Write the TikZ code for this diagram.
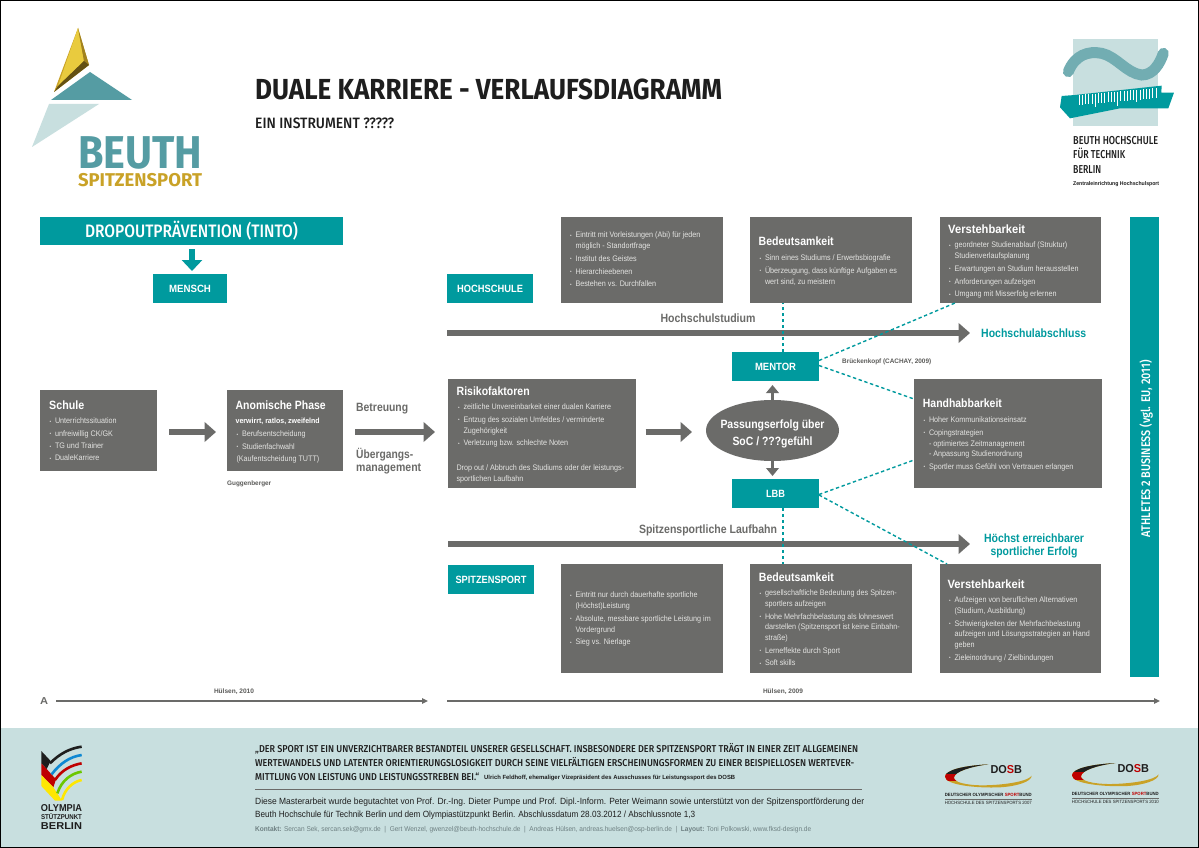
\documentclass[tikz,border=0pt]{standalone}
\usepackage{fontspec}
\usepackage{graphicx}
\usetikzlibrary{arrows.meta,shapes.geometric}
\setmainfont{Liberation Sans}
\newfontfamily\nar[FakeStretch=0.9]{Liberation Sans}
\newfontfamily\med{Fira Sans Medium}
\newfontfamily\fbd{Fira Sans Bold}
\definecolor{tl}{HTML}{009A9E}
\definecolor{gr}{HTML}{6B6B69}
\definecolor{ft}{HTML}{C8DFDF}
\definecolor{lt}{HTML}{E4E4E2}
\definecolor{lg}{HTML}{559CA3}
\definecolor{gd}{HTML}{C9A227}
\definecolor{gl}{HTML}{E9CB3E}
\definecolor{kt}{HTML}{6E8082}
\definecolor{dk}{HTML}{1E1E1E}
\newsavebox\fwbox
\newcommand\fw[2]{\sbox\fwbox{\rule{0pt}{.72em}\smash{#2}}\pgfmathsetmacro\fwr{#1/\the\wd\fwbox}\scalebox{\fwr}[1]{\usebox\fwbox}}
\newcommand\sz[1]{\fontsize{#1}{#1}\selectfont}
\newcommand\rbox[7]{\pgfmathsetmacro\rw{#5-#3}\pgfmathsetmacro\rh{#6-#4}\node[#1,anchor=north west,minimum width=\rw pt,minimum height=\rh pt] (#2) at (#3,#4) {#7};}
\newcommand\bu[1]{\makebox[5.5pt][l]{\raisebox{.5pt}{\fontsize{5}{5}\selectfont•}}#1}
\newcommand\co[1]{\makebox[5.5pt]{}#1}
\newcommand\st{\rule{0pt}{6pt}}
\tikzset{
 greybox/.style={fill=gr,inner sep=0pt,outer sep=0pt},
 tealbox/.style={fill=tl,text=white,inner sep=0pt,outer sep=0pt,font=\sz{10.5}\bfseries},
 bodytxt/.style={anchor=north west,inner sep=0pt,outer sep=0pt,yshift=3.1pt,text=lt,align=left,font=\fontsize{8}{10.7}\selectfont\nar},
 head/.style={anchor=west,inner sep=0pt,text=white,font=\sz{12}\bfseries},
 lab/.style={anchor=west,inner sep=0pt},
 clab/.style={inner sep=0pt},
 graylab/.style={clab,text=gr,font=\sz{12}\bfseries},
 teallab/.style={clab,text=tl,font=\sz{12}\bfseries},
 src/.style={clab,text=gr!85!black,font=\sz{6.5}\bfseries},
 blockarrow/.style={draw=gr,line width=6.5pt,-{Triangle[length=11.5pt,width=19.5pt]}},
 smallarrow/.style={draw=gr,line width=3.2pt,-{Triangle[length=8pt,width=12.5pt]}},
 thinarrow/.style={draw=gr,line width=1.3pt,-{Triangle[length=6pt,width=5.5pt]}},
 dashlink/.style={draw=tl,line width=1.4pt,dash pattern=on 3.4pt off 2.6pt},
}
\begin{document}
\begin{tikzpicture}[x=1pt,y=-1pt]
\useasboundingbox (0,0) rectangle (1199,848);
\fill[white] (0,0) rectangle (1199,848);
\fill[ft] (0,728) rectangle (1199,848);

% Beuth Spitzensport logo
\fill[gd] (78,28) -- (89,65) -- (54,92) -- cycle;
\fill[gl] (78,28) -- (84,61) -- (58,86) -- cycle;
\fill[gd!80!black] (78,28) -- (89,65) -- (84,61) -- cycle;
\fill[gd!50!black] (89,65) -- (54,92) -- (58,86) -- (84,61) -- cycle;
\fill[lg] (90,72) -- (132,100) -- (51,100) -- cycle;
\fill[ft] (49,104) -- (99,104) -- (32,147) -- cycle;
\node[clab,text=lg,font=\sz{46}\fbd] (beuth) at (140,151.5) {\fw{124}{BEUTH}};
\node[clab,text=gd,font=\sz{18.5}\fbd] (spitz) at (140,180) {\fw{124}{SPITZENSPORT}};

% Title
\node[lab,text=dk,font=\sz{29}\fbd] (title) at (255,89.5) {\fw{467}{DUALE KARRIERE - VERLAUFSDIAGRAMM}};
\node[lab,text=dk,font=\sz{15}\med] (subtitle) at (255,123.5) {\fw{139}{EIN INSTRUMENT ?????}};

% University logo
\begin{scope}[shift={(1020,20)},x=.3333pt,y=-.3333pt]
\fill[ft] (158,57) rectangle (415,317);
\draw[draw=lg!75!ft,line width=11pt,line cap=round] (145,155) .. controls (165,105) and (205,92) .. (245,100) .. controls (290,110) and (320,160) .. (365,165) .. controls (400,165) and (420,130) .. (430,100);
\fill[tl] (125,228) -- (165,225) -- (425,197) -- (424,218) -- (462,218) -- (445,265) -- (300,265) -- (150,295) -- (120,262) -- cycle;
\foreach \i in {0,...,24}{
 \pgfmathsetmacro\xa{177+\i*9.6}
 \pgfmathsetmacro\ya{225-\i*0.85}
 \pgfmathsetmacro\yb{\ifnum\i=5 265-\i*0.85\else\ifnum\i=12 268-\i*0.85\else\ifnum\i=18 262-\i*0.85\else 255-\i*0.85\fi\fi\fi}
 \draw[white,line width=.55pt] (\xa,\ya) -- (\xa,\yb);
}
\end{scope}
\node[lab,text=dk,font=\sz{11.5}\med] (u1) at (1073,140) {\fw{85}{BEUTH HOCHSCHULE}};
\node[lab,text=dk,font=\sz{11.5}\med] (u2) at (1073,154) {\fw{52}{FÜR TECHNIK}};
\node[lab,text=dk,font=\sz{11.5}\med] (u3) at (1073,169) {\fw{28}{BERLIN}};
\node[lab,text=dk,font=\sz{5.5}\bfseries] (u4) at (1073,184) {\fw{86}{Zentraleinrichtung Hochschulsport}};

% Left column
\rbox{tealbox,font=\sz{18}\med}{drop}{40}{217}{343}{245}{\fw{213}{DROPOUTPRÄVENTION (TINTO)}}
\rbox{tealbox}{mensch}{153}{274}{227}{303}{\fw{42}{MENSCH}}
\draw[draw=tl,line width=6.8pt,-{Triangle[length=11pt,width=20pt]},shorten <=4pt,shorten >=3pt] ([xshift=2pt]drop.south -| mensch.north) -- ([xshift=2pt]mensch.north);
\rbox{greybox}{schule}{40}{390}{157}{471}{}
\rbox{greybox}{anom}{227}{390}{343}{471}{}
\node[head] (hschule) at (49,405) {\fw{35}{Schule}};
\node[bodytxt] (tschule) at (49.5,421) {\st\bu{Unterrichtssituation}\\[1.6pt]\bu{unfreiwillig CK/GK}\\[1.6pt]\bu{TG und Trainer}\\[1.6pt]\bu{DualeKarriere}};
\node[head] (hanom) at (235.5,405) {\fw{90}{Anomische Phase}};
\node[lab,text=white,font=\sz{7.5}\bfseries] (verw) at (235.5,421) {\fw{84}{verwirrt, ratlos, zweifelnd}};
\node[bodytxt] (tanom) at (236.5,434) {\st\bu{Berufsentscheidung}\\[1.6pt]\bu{Studienfachwahl}\\[1.6pt](Kaufentscheidung TUTT)};
\node[src,anchor=west] (gugg) at (227,483) {\fw{44}{Guggenberger}};
\draw[blockarrow,shorten <=12pt,shorten >=11pt] ([yshift=-1.5pt]schule.east) -- ([yshift=-1.5pt]anom.west);
\node[graylab,anchor=west] (betr) at (356,407) {\fw{52}{Betreuung}};
\node[graylab,anchor=west] (uber) at (356,454) {\fw{57}{Übergangs-}};
\node[graylab,anchor=west] (mgmt) at (356,467) {\fw{65}{management}};

% Centre boxes
\rbox{tealbox}{hoch}{447}{274}{533}{303}{\fw{66}{HOCHSCHULE}}
\rbox{tealbox}{spit}{448}{565}{534}{594}{\fw{71}{SPITZENSPORT}}
\rbox{greybox}{b1}{561}{217}{723}{303}{}
\rbox{greybox}{b2}{750}{217}{912}{303}{}
\rbox{greybox}{b3}{940}{217}{1101}{303}{}
\rbox{greybox}{risk}{448}{379}{636}{488}{}
\rbox{greybox}{hand}{914}{379}{1102}{488}{}
\rbox{greybox}{c1}{561}{564}{723}{673}{}
\rbox{greybox}{c2}{750}{564}{912}{673}{}
\rbox{greybox}{c3}{940}{564}{1101}{673}{}
\rbox{tealbox}{a2b}{1130}{217}{1159}{677}{}
\node[clab,rotate=90,text=white,font=\sz{12.5}\med] (a2bt) at (1145.5,448.5) {\fw{177}{ATHLETES 2 BUSINESS (vgl. EU, 2011)}};
\rbox{tealbox}{mentor}{732}{352}{819}{381}{\fw{41}{MENTOR}}
\rbox{tealbox}{lbb}{732}{479}{819}{508}{\fw{19}{LBB}}
\node[ellipse,fill=gr,minimum width=133pt,minimum height=61pt,inner sep=0pt,outer sep=0pt] (ell) at (772.5,430.5) {};
\node[clab,text=white,font=\sz{12}\bfseries] (e1) at (772.5,424) {\fw{104}{Passungserfolg über}};
\node[clab,text=white,font=\sz{12}\bfseries] (e2) at (772.5,441) {\fw{80}{SoC / ???gefühl}};

% Timeline arrows
\coordinate (hs0) at (447,333);
\coordinate (hs1) at (970,333);
\coordinate (sp0) at (448,544);
\coordinate (sp1) at (970,544);
\draw[blockarrow] (hs0) -- (hs1);
\draw[blockarrow] (sp0) -- (sp1);
\node[graylab] (hst) at (708,318) {\fw{95}{Hochschulstudium}};
\node[graylab] (slb) at (708,529) {\fw{138}{Spitzensportliche Laufbahn}};
\node[teallab,anchor=west] (hsa) at (981,333) {\fw{105}{Hochschulabschluss}};
\node[teallab] (he1) at (1034,538) {\fw{100}{Höchst erreichbarer}};
\node[teallab] (he2) at (1034,551) {\fw{87}{sportlicher Erfolg}};

% Flow arrows
\draw[blockarrow,shorten <=12pt,shorten >=13pt] ([yshift=-1.5pt]anom.east) -- ([yshift=-1.5pt]anom.east -| risk.west);
\draw[blockarrow,shorten <=9.5pt,shorten >=14pt] (risk.east |- 0,432) -- (ell.west |- 0,432);
\draw[smallarrow,shorten >=4pt] (ell.north) -- (ell.north |- mentor.south);
\draw[smallarrow,shorten >=3pt] (ell.south) -- (ell.south |- lbb.north);

% Dashed links
\draw[dashlink] ([xshift=7.5pt]mentor.north) -- ([xshift=7.5pt]mentor.north |- b2.south);
\draw[dashlink] ([yshift=6pt]mentor.east) -- ([xshift=15pt]b3.south west);
\draw[dashlink] ([yshift=1pt]mentor.east) -- ([yshift=-20pt]hand.north west);
\draw[dashlink] ([xshift=7.5pt]lbb.south) -- ([xshift=7.5pt]lbb.south |- c2.north);
\draw[dashlink] ([yshift=-1pt]lbb.east) -- ([yshift=28pt]hand.south west);
\draw[dashlink] ([yshift=-1.5pt]lbb.east) -- ([xshift=7pt]c3.north west);

\node[src,anchor=west] (bruck) at (842,361) {\fw{89}{Brückenkopf (CACHAY, 2009)}};

% Text in the grey boxes
\node[bodytxt] (t1) at (570,235) {\st\bu{Eintritt mit Vorleistungen (Abi) für jeden}\\\co{möglich - Standortfrage}\\[2pt]\bu{Institut des Geistes}\\[2pt]\bu{Hierarchieebenen}\\[2pt]\bu{Bestehen vs. Durchfallen}};
\node[head] (h2) at (758.5,241.5) {\fw{75}{Bedeutsamkeit}};
\node[bodytxt] (t2) at (759.5,257.7) {\st\bu{Sinn eines Studiums / Erwerbsbiografie}\\[2pt]\bu{Überzeugung, dass künftige Aufgaben es}\\\co{wert sind, zu meistern}};
\node[head] (h3) at (948,229) {\fw{77}{Verstehbarkeit}};
\node[bodytxt] (t3) at (949,245) {\st\bu{geordneter Studienablauf (Struktur)}\\\co{Studienverlaufsplanung}\\[2pt]\bu{Erwartungen an Studium herausstellen}\\[2pt]\bu{Anforderungen aufzeigen}\\[2pt]\bu{Umgang mit Misserfolg erlernen}};
\node[head] (hr) at (456.5,391) {\fw{73}{Risikofaktoren}};
\node[bodytxt] (tr) at (458,406.7) {\st\bu{zeitliche Unvereinbarkeit einer dualen Karriere}\\[2pt]\bu{Entzug des sozialen Umfeldes / verminderte}\\\co{Zugehörigkeit}\\[2pt]\bu{Verletzung bzw. schlechte Noten}};
\node[bodytxt] (tr2) at (456.5,468) {\st Drop out / Abbruch des Studiums oder der leistungs-\\sportlichen Laufbahn};
\node[head] (hh) at (922.7,403) {\fw{79}{Handhabbarkeit}};
\node[bodytxt] (th) at (923.5,419.7) {\st\bu{Hoher Kommunikationseinsatz}\\[2pt]\bu{Copingstrategien}\\\co{- optimiertes Zeitmanagement}\\\co{- Anpassung Studienordnung}\\[2pt]\bu{Sportler muss Gefühl von Vertrauen erlangen}};
\node[bodytxt] (tc1) at (570,595) {\st\bu{Eintritt nur durch dauerhafte sportliche}\\\co{(Höchst)Leistung}\\[2pt]\bu{Absolute, messbare sportliche Leistung im}\\\co{Vordergrund}\\[2pt]\bu{Sieg vs. Nierlage}};
\node[head] (hc2) at (758.7,577) {\fw{75}{Bedeutsamkeit}};
\node[bodytxt] (tc2) at (759.5,592.7) {\st\bu{gesellschaftliche Bedeutung des Spitzen-}\\\co{sportlers aufzeigen}\\[2pt]\bu{Hohe Mehrfachbelastung als lohneswert}\\\co{darstellen (Spitzensport ist keine Einbahn-}\\\co{straße)}\\[2pt]\bu{Lerneffekte durch Sport}\\[2pt]\bu{Soft skills}};
\node[head] (hc3) at (947.4,584) {\fw{77}{Verstehbarkeit}};
\node[bodytxt] (tc3) at (949,599.7) {\st\bu{Aufzeigen von beruflichen Alternativen}\\\co{(Studium, Ausbildung)}\\[2pt]\bu{Schwierigkeiten der Mehrfachbelastung}\\\co{aufzeigen und Lösungsstrategien an Hand}\\\co{geben}\\[2pt]\bu{Zieleinordnung / Zielbindungen}};

% Bottom timeline
\node[lab,text=gr,font=\sz{10}\bfseries] (amark) at (40,701) {\fw{8}{A}};
\coordinate (a1) at (428,701);
\coordinate (a2) at (447,701);
\coordinate (a3) at (1160,701);
\draw[thinarrow] ([xshift=8pt]amark.east) -- (a1);
\draw[thinarrow] (a2) -- (a3);
\node[src] (h10) at (234,691) {\fw{40}{Hülsen, 2010}};
\node[src] (h09) at (783,691) {\fw{40}{Hülsen, 2009}};

% Footer text
\node[lab,text=dk,font=\sz{10}\med] (q1) at (255,749) {\fw{603}{„DER SPORT IST EIN UNVERZICHTBARER BESTANDTEIL UNSERER GESELLSCHAFT. INSBESONDERE DER SPITZENSPORT TRÄGT IN EINER ZEIT ALLGEMEINEN}};
\node[lab,text=dk,font=\sz{10}\med] (q2) at (255,763) {\fw{599}{WERTEWANDELS UND LATENTER ORIENTIERUNGSLOSIGKEIT DURCH SEINE VIELFÄLTIGEN ERSCHEINUNGSFORMEN ZU EINER BEISPIELLOSEN WERTEVER-}};
\node[lab,text=dk,font=\sz{10}\med] (q3) at (255,777) {\fw{224}{MITTLUNG VON LEISTUNG UND LEISTUNGSSTREBEN BEI.“}};
\node[lab,text=dk,font=\sz{6}\bfseries] (q4) at (484,777) {\fw{251}{Ulrich Feldhoff, ehemaliger Vizepräsident des Ausschusses für Leistungssport des DOSB}};
\coordinate (rl0) at (255,789);
\coordinate (rl1) at (862,789);
\draw[gr,line width=.8pt] (rl0) -- (rl1);
\node[lab,text=dk,font=\sz{9}] (d1) at (255,801) {\fw{609}{Diese Masterarbeit wurde begutachtet von Prof. Dr.-Ing. Dieter Pumpe und Prof. Dipl.-Inform. Peter Weimann sowie unterstützt von der Spitzensportförderung der}};
\node[lab,text=dk,font=\sz{9}] (d2) at (255,814) {\fw{440}{Beuth Hochschule für Technik Berlin und dem Olympiastützpunkt Berlin. Abschlussdatum 28.03.2012 / Abschlussnote 1,3}};
\node[lab,text=kt,font=\sz{7}] (k1) at (255,829) {\fw{556}{\textbf{Kontakt:} Sercan Sek, sercan.sek@gmx.de \ | \ Gert Wenzel, gwenzel@beuth-hochschule.de \ | \ Andreas Hülsen, andreas.huelsen@osp-berlin.de \ | \ \textbf{Layout:} Toni Polkowski, www.fksd-design.de}};

% Olympia logo
\begin{scope}[shift={(0,735)},x=.3333pt,y=-.3333pt]
\fill[dk] (124,48) -- (152,78) -- (140,102) -- (124,85) -- cycle;
\fill[red!75!black] (124,85) -- (140,102) -- (168,133) -- (160,157) -- (124,120) -- cycle;
\fill[yellow!90!orange] (124,120) -- (160,157) -- (186,197) -- (165,197) -- (124,153) -- cycle;
\draw[dk,line width=2.6pt] (150,85) .. controls (180,55) and (210,40) .. (245,35);
\draw[cyan!70!blue,line width=2.6pt] (155,118) .. controls (180,85) and (210,65) .. (245,60);
\draw[red!75!black,line width=2.6pt] (165,135) .. controls (185,105) and (215,90) .. (245,85);
\draw[green!45!olive!80!yellow,line width=2.6pt] (172,175) .. controls (185,135) and (215,115) .. (245,110);
\draw[yellow!90!orange,line width=2.6pt] (186,195) .. controls (195,160) and (220,140) .. (245,135);
\end{scope}
\node[clab,text=dk,font=\sz{10}\bfseries] (o1) at (61.5,808) {\fw{41}{OLYMPIA}};
\node[clab,text=dk,font=\sz{7}\bfseries] (o2) at (61.5,817) {\fw{41}{STÜTZPUNKT}};
\node[clab,text=dk,font=\sz{10}\bfseries] (o3) at (61.5,825.5) {\fw{41}{BERLIN}};

% DOSB logos
\foreach \ox/\oy/\yr/\nm in {900/745/2007/a,1027/743.7/2010/b}{
\begin{scope}[shift={(\ox,\oy)},x=.3333pt,y=-.3333pt]
\begin{scope}
\clip (265,58) .. controls (190,62) and (135,75) .. (135,95) .. controls (135,120) and (230,130) .. (300,127) .. controls (350,124) and (395,110) .. (395,92) .. controls (385,108) and (320,120) .. (250,121) .. controls (200,121) and (160,112) .. (162,97) .. controls (165,80) and (210,65) .. (265,58) -- cycle;
\fill[gd] (130,50) rectangle (400,135);
\fill[dk] (130,50) rectangle (300,86);
\fill[red!75!black] (130,86) rectangle (190,108);
\end{scope}
\node[clab,text=dk,font=\sz{11.5}\bfseries] (dosb\nm) at (319,72.5) {\fw{31.5}{DO{\color{red!75!black}S}B}};
\node[clab,text=dk,font=\sz{4.6}\bfseries] (dsb\nm) at (265,151) {\fw{87}{DEUTSCHER OLYMPISCHER {\color{red!75!black}SPORT}BUND}};
\draw[gr,line width=.4pt] (135,162) -- (395,162);
\node[clab,text=dk,font=\sz{4.6}] (hds\nm) at (265,175) {\fw{87}{HOCHSCHULE DES SPITZENSPORTS \yr}};
\end{scope}
}

% Frame
\draw[black,line width=1.4pt] (.7,.7) rectangle (1198.3,847.3);
\end{tikzpicture}
\end{document}
